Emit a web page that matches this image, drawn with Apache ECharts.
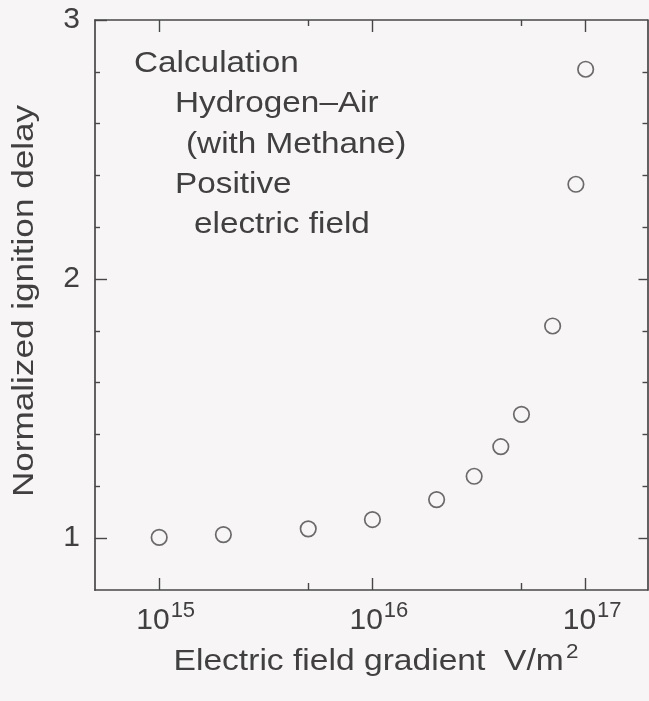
<!DOCTYPE html>
<html>
<head>
<meta charset="utf-8">
<title>Normalized ignition delay vs electric field gradient</title>
<script src="https://cdn.jsdelivr.net/npm/echarts@6/dist/echarts.min.js"></script>
<style>
  html, body { margin: 0; padding: 0; background: #f7f5f6; }
  #chart { width: 649px; height: 701px; }
</style>
</head>
<body>
<div id="chart"></div>
<script>
// Calculated points: electric field gradient (V/m^2) and normalized ignition delay
const fieldGradient = [1e15, 2e15, 5e15, 1e16, 2e16, 3e16, 4e16, 5e16, 7e16, 9e16, 1e17];
const ignitionDelay = [1.003, 1.014, 1.036, 1.072, 1.149, 1.239, 1.353, 1.478, 1.819, 2.366, 2.810];

// Axis ticks
const xMajorTicks = [1e15, 1e16, 1e17];
const xMinorTicks = [5e15, 5e16];
const yMajorTicks = [1, 2, 3];
const yMinorTicks = [1.2, 1.4, 1.6, 1.8, 2.2, 2.4, 2.6, 2.8];

// Annotation block inside the plot
const noteLines = ['Calculation', 'Hydrogen\u2013Air', '(with Methane)', 'Positive', 'electric field'];
const noteIndent = [134, 175, 186, 175, 194];

const xTitle = 'Electric field gradient  V/m';
const xTitleExp = '2';
const yTitle = 'Normalized ignition delay';

const ink = '#404040';
const lineInk = '#474747';
const font = "'Liberation Sans', Arial, Helvetica, sans-serif";
// the lettering is set slightly wide
const textStretch = 1.12;

const X_MIN = 5e14, X_MAX = 1.95e17, Y_MIN = 0.8, Y_MAX = 3;

const chart = echarts.init(document.getElementById('chart'), null, { renderer: 'canvas' });

function xAxisDef(position, ticks, len, withLine, withLabels) {
  return {
    type: 'log',
    logBase: 10,
    min: X_MIN,
    max: X_MAX,
    position: position,
    splitLine: { show: false },
    axisLine: { show: withLine, onZero: false, lineStyle: { color: lineInk, width: 1.7 } },
    axisTick: { show: true, inside: true, length: len, customValues: ticks, lineStyle: { color: lineInk, width: 1.4 } },
    axisLabel: withLabels ? {
      show: true,
      customValues: ticks,
      margin: 16,
      formatter: function (v) {
        return '{pad|}{b|10}{sup|' + Math.round(Math.log10(v)) + '}';
      },
      rich: {
        pad: { width: 13, fontSize: 30, lineHeight: 30, verticalAlign: 'bottom' },
        b: { fontSize: 30, lineHeight: 30, fontFamily: font, color: ink, verticalAlign: 'bottom' },
        sup: { fontSize: 22, lineHeight: 22, fontFamily: font, color: ink, padding: [0, 0, 14, 1], verticalAlign: 'bottom' }
      }
    } : { show: false }
  };
}

function yAxisDef(position, ticks, len, withLine, withLabels) {
  return {
    type: 'value',
    min: Y_MIN,
    max: Y_MAX,
    position: position,
    splitLine: { show: false },
    axisLine: { show: withLine, onZero: false, lineStyle: { color: lineInk, width: 1.7 } },
    axisTick: { show: true, inside: true, length: len, customValues: ticks, lineStyle: { color: lineInk, width: 1.4 } },
    axisLabel: withLabels ? {
      show: true,
      customValues: ticks,
      margin: 15,
      fontSize: 30,
      fontFamily: font,
      color: ink,
      formatter: function (v) { return String(Math.round(v)); }
    } : { show: false }
  };
}

const option = {
  backgroundColor: '#f7f5f6',
  animation: false,
  grid: { left: 95, right: 1.5, top: 20, bottom: 111, containLabel: false },
  xAxis: [
    xAxisDef('bottom', xMajorTicks, 12, true, true),
    xAxisDef('bottom', xMinorTicks, 7, false, false),
    xAxisDef('top', xMajorTicks, 12, true, false),
    xAxisDef('top', xMinorTicks, 6, false, false)
  ],
  yAxis: [
    yAxisDef('left', yMajorTicks, 12, true, true),
    yAxisDef('left', yMinorTicks, 5, false, false),
    yAxisDef('right', [1, 2], 9, true, false),
    yAxisDef('right', yMinorTicks, 5, false, false)
  ],
  series: [{
    type: 'scatter',
    xAxisIndex: 0,
    yAxisIndex: 0,
    symbol: 'circle',
    symbolSize: 15.5,
    itemStyle: { color: 'rgba(0,0,0,0)', borderColor: lineInk, borderWidth: 1.7 },
    data: fieldGradient.map(function (x, i) { return [x, ignitionDelay[i]]; })
  }],
  graphic: [
    {
      type: 'text',
      x: 25,
      y: 301,
      rotation: Math.PI / 2,
      scaleX: 1.17,
      style: {
        text: yTitle,
        font: '30px ' + font,
        fill: ink,
        align: 'center',
        verticalAlign: 'middle'
      }
    },
    {
      type: 'text',
      x: 376,
      y: 662,
      scaleX: textStretch,
      style: {
        text: '{m|' + xTitle + '}{s|' + xTitleExp + '}',
        rich: {
          m: { fontSize: 30, lineHeight: 30, fontFamily: font, fill: ink, verticalAlign: 'bottom' },
          s: { fontSize: 20, lineHeight: 20, fontFamily: font, fill: ink, padding: [0, 0, 15, 2], verticalAlign: 'bottom' }
        },
        fill: ink,
        align: 'center',
        verticalAlign: 'middle'
      }
    }
  ].concat(noteLines.map(function (t, i) {
    return {
      type: 'text',
      x: noteIndent[i],
      y: 63.5 + i * 40.4,
      scaleX: 1.11,
      style: {
        text: t,
        font: '30px ' + font,
        fill: ink,
        align: 'left',
        verticalAlign: 'middle'
      }
    };
  }))
};

chart.setOption(option);
</script>
</body>
</html>
